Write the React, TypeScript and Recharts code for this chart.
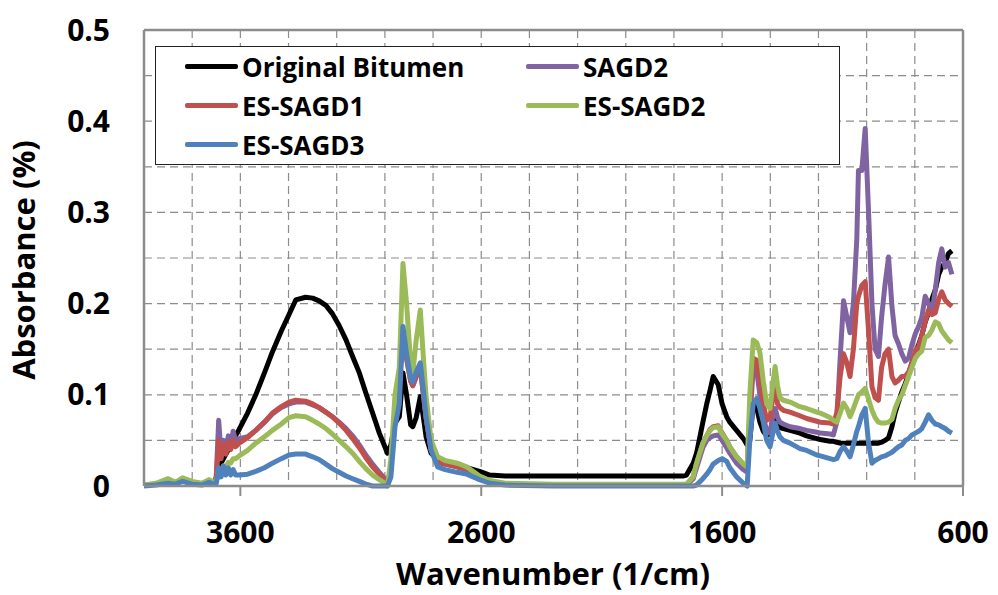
import { CartesianGrid, Legend, Line, LineChart, ReferenceLine, XAxis, YAxis } from 'recharts'

// wavenumber (1/cm), high to low
const wavenumber = [
  4000, 3950, 3900, 3870, 3840, 3800, 3760, 3730, 3710, 3700, 3690, 3680, 3670, 3660, 3650, 3640, 3630, 3620, 3605, 3570,
  3536, 3500, 3467, 3430, 3398, 3370, 3329, 3300, 3273, 3245, 3218, 3190, 3161, 3134, 3106, 3079, 3051, 3023, 3000, 2989,
  2975, 2958, 2940, 2925, 2910, 2893, 2884, 2870, 2853, 2840, 2829, 2808, 2781, 2750, 2700, 2660, 2607, 2565, 2500, 2300,
  2100, 1900, 1760, 1748, 1720, 1706, 1680, 1664, 1650, 1637, 1616, 1600, 1581, 1568, 1540, 1512, 1496, 1485, 1471, 1456,
  1443, 1429, 1415, 1401, 1388, 1380, 1370, 1360, 1346, 1318, 1277, 1249, 1207, 1193, 1152, 1138, 1124, 1110, 1096, 1082,
  1069, 1055, 1041, 1034, 1020, 1006, 992, 978, 965, 951, 938, 924, 909, 895, 882, 868, 854, 840, 826, 812,
  798, 784, 771, 757, 743, 729, 715, 701, 688, 674, 660, 646,
]

const originalBitumen = [
  0.001, 0.002, 0.004, 0.003, 0.006, 0.003, 0.002, 0.004, 0.003, 0.005, 0.02, 0.025, 0.03, 0.035, 0.04, 0.045, 0.05, 0.055, 0.062, 0.08,
  0.1, 0.124, 0.147, 0.17, 0.188, 0.204, 0.207, 0.206, 0.203, 0.198, 0.189, 0.176, 0.16, 0.142, 0.124, 0.102, 0.08, 0.058, 0.043, 0.036,
  0.045, 0.069, 0.076, 0.124, 0.1, 0.067, 0.065, 0.075, 0.098, 0.075, 0.054, 0.036, 0.028, 0.025, 0.023, 0.02, 0.016, 0.012, 0.011, 0.011,
  0.011, 0.011, 0.011, 0.012, 0.025, 0.036, 0.07, 0.09, 0.105, 0.12, 0.111, 0.09, 0.076, 0.07, 0.061, 0.052, 0.045, 0.05, 0.09, 0.085,
  0.07, 0.06, 0.055, 0.058, 0.07, 0.075, 0.068, 0.064, 0.063, 0.061, 0.058, 0.055, 0.052, 0.051, 0.049, 0.049, 0.048, 0.047, 0.047, 0.047,
  0.047, 0.047, 0.047, 0.047, 0.047, 0.047, 0.047, 0.047, 0.047, 0.047, 0.048, 0.05, 0.053, 0.065, 0.08, 0.092, 0.103, 0.112, 0.122, 0.135,
  0.145, 0.155, 0.165, 0.18, 0.19, 0.205, 0.215, 0.232, 0.24, 0.245, 0.255, 0.258,
]

const sagd2 = [
  0.001, 0.002, 0.005, 0.004, 0.007, 0.004, 0.002, 0.006, 0.003, 0.01, 0.072, 0.035, 0.05, 0.04, 0.055, 0.045, 0.06, 0.05, 0.052, 0.054,
  0.061, 0.07, 0.079, 0.086, 0.09, 0.092, 0.092, 0.089, 0.086, 0.081, 0.076, 0.07, 0.063, 0.055, 0.045, 0.034, 0.024, 0.015, 0.008, 0.002,
  0.02, 0.085, 0.11, 0.17, 0.14, 0.115, 0.11, 0.12, 0.13, 0.1, 0.075, 0.04, 0.026, 0.024, 0.021, 0.018, 0.01, 0.005, 0.002, 0.001,
  0.001, 0.001, 0.001, 0.001, 0.008, 0.02, 0.042, 0.05, 0.053, 0.055, 0.056, 0.05, 0.042, 0.036, 0.025, 0.018, 0.015, 0.07, 0.13, 0.125,
  0.1, 0.075, 0.061, 0.058, 0.08, 0.085, 0.075, 0.07, 0.068, 0.065, 0.063, 0.061, 0.059, 0.058, 0.057, 0.056, 0.07, 0.14, 0.203, 0.185,
  0.168, 0.2, 0.27, 0.346, 0.346, 0.392, 0.3, 0.2, 0.15, 0.142, 0.185, 0.22, 0.251, 0.197, 0.165, 0.156, 0.145, 0.137, 0.14, 0.155,
  0.167, 0.175, 0.185, 0.208, 0.2, 0.19, 0.215, 0.245, 0.26, 0.24, 0.245, 0.232,
]

const esSagd1 = [
  0.001, 0.002, 0.005, 0.003, 0.007, 0.004, 0.002, 0.006, 0.003, 0.01, 0.05, 0.03, 0.045, 0.035, 0.048, 0.04, 0.05, 0.043, 0.047, 0.053,
  0.061, 0.07, 0.08, 0.087, 0.092, 0.094, 0.093, 0.09, 0.086, 0.081, 0.076, 0.069, 0.061, 0.052, 0.042, 0.031, 0.021, 0.013, 0.006, 0.001,
  0.02, 0.085, 0.11, 0.17, 0.14, 0.115, 0.11, 0.12, 0.13, 0.1, 0.075, 0.04, 0.026, 0.024, 0.021, 0.018, 0.01, 0.005, 0.002, 0.001,
  0.001, 0.001, 0.001, 0.001, 0.01, 0.025, 0.047, 0.055, 0.062, 0.065, 0.066, 0.058, 0.05, 0.043, 0.032, 0.024, 0.021, 0.08, 0.14, 0.138,
  0.115, 0.09, 0.072, 0.075, 0.1, 0.113, 0.09, 0.086, 0.083, 0.081, 0.077, 0.074, 0.071, 0.07, 0.069, 0.068, 0.08, 0.12, 0.145, 0.135,
  0.12, 0.15, 0.2, 0.208, 0.22, 0.224, 0.17, 0.109, 0.097, 0.094, 0.13, 0.145, 0.15, 0.12, 0.113, 0.116, 0.12, 0.12, 0.125, 0.135,
  0.148, 0.153, 0.165, 0.18, 0.193, 0.188, 0.19, 0.205, 0.213, 0.204, 0.2, 0.197,
]

const esSagd2 = [
  0.001, 0.003, 0.008, 0.004, 0.009, 0.005, 0.003, 0.007, 0.004, 0.005, 0.018, 0.015, 0.022, 0.02, 0.026, 0.025, 0.03, 0.03, 0.033, 0.039,
  0.047, 0.054, 0.061, 0.068, 0.075, 0.077, 0.076, 0.072, 0.068, 0.063, 0.057, 0.05, 0.043, 0.036, 0.027, 0.019, 0.012, 0.007, 0.003, 0,
  0.03, 0.1, 0.13, 0.244, 0.2, 0.135, 0.124, 0.16, 0.193, 0.14, 0.098, 0.05, 0.032, 0.028, 0.025, 0.021, 0.011, 0.006, 0.003, 0.002,
  0.002, 0.002, 0.002, 0.002, 0.01, 0.025, 0.047, 0.055, 0.061, 0.064, 0.065, 0.057, 0.05, 0.043, 0.032, 0.024, 0.021, 0.1, 0.16, 0.157,
  0.146, 0.115, 0.09, 0.085, 0.115, 0.131, 0.11, 0.097, 0.094, 0.092, 0.087, 0.085, 0.081, 0.08, 0.075, 0.072, 0.07, 0.08, 0.091, 0.085,
  0.076, 0.085, 0.095, 0.1, 0.103, 0.107, 0.095, 0.083, 0.075, 0.07, 0.069, 0.069, 0.07, 0.073, 0.085, 0.094, 0.1, 0.11, 0.12, 0.13,
  0.14, 0.145, 0.148, 0.163, 0.165, 0.171, 0.18, 0.178, 0.17, 0.165, 0.16, 0.157,
]

const esSagd3 = [
  0, 0.001, 0.003, 0.002, 0.005, 0.002, 0.001, 0.004, 0.002, 0.003, 0.02, 0.01, 0.022, 0.012, 0.02, 0.012, 0.018, 0.012, 0.012, 0.013,
  0.016, 0.02, 0.025, 0.03, 0.034, 0.035, 0.035, 0.032, 0.029, 0.024, 0.019, 0.015, 0.011, 0.008, 0.005, 0.002, 0, 0, 0, 0,
  0.01, 0.065, 0.09, 0.175, 0.145, 0.118, 0.114, 0.125, 0.135, 0.105, 0.076, 0.039, 0.021, 0.018, 0.015, 0.013, 0.007, 0.003, 0.001, 0,
  0, 0, 0, 0, 0, 0.001, 0.008, 0.013, 0.018, 0.024, 0.028, 0.03, 0.027, 0.02, 0.01, 0.003, 0, 0.05, 0.09, 0.096,
  0.085, 0.07, 0.05, 0.043, 0.06, 0.069, 0.06, 0.054, 0.05, 0.047, 0.041, 0.039, 0.034, 0.033, 0.03, 0.029, 0.03, 0.038, 0.043, 0.038,
  0.032, 0.045, 0.06, 0.065, 0.078, 0.085, 0.047, 0.025, 0.028, 0.03, 0.032, 0.033, 0.035, 0.037, 0.04, 0.043, 0.045, 0.05, 0.052, 0.056,
  0.058, 0.06, 0.063, 0.07, 0.078, 0.072, 0.068, 0.067, 0.065, 0.063, 0.06, 0.058,
]

const seriesNames = ['Original Bitumen', 'SAGD2', 'ES-SAGD1', 'ES-SAGD2', 'ES-SAGD3']
const seriesColors = ['#000000', '#8064A2', '#C0504D', '#9BBB59', '#4F81BD']
const seriesValues = [originalBitumen, sagd2, esSagd1, esSagd2, esSagd3]

const xTicks = [3600, 2600, 1600, 600]
const yTicks = [0, 0.1, 0.2, 0.3, 0.4, 0.5]
const xGrid = [3800, 3600, 3400, 3200, 3000, 2800, 2600, 2400, 2200, 2000, 1800, 1600, 1400, 1200, 1000, 800]
const yGrid = [0.05, 0.1, 0.15, 0.2, 0.25, 0.3, 0.35, 0.4, 0.45]

const data = wavenumber.map((w, i) => {
  const row: Record<string, number> = { w }
  seriesNames.forEach((name, s) => {
    row[name] = seriesValues[s][i]
  })
  return row
})

const FONT = '"Open Sans", sans-serif'
const AXIS = '#8c8c8c'

function LegendBox({ payload }: any) {
  // keep the series order, not recharts' alphabetical sort
  const items = [...(payload || [])].sort(
    (a: any, b: any) => seriesNames.indexOf(a.value) - seriesNames.indexOf(b.value),
  )
  return (
    <div
      style={{
        boxSizing: 'border-box',
        width: 685,
        height: 119,
        background: '#fff',
        border: '1.5px solid #222',
        display: 'grid',
        gridTemplateColumns: '341px 300px',
        gridAutoRows: '39px',
        paddingLeft: 29,
        fontFamily: FONT,
        fontWeight: 700,
        fontSize: 26,
        color: '#000',
      }}
    >
      {items.map((p: any) => (
        <div key={p.value} style={{ display: 'flex', alignItems: 'center' }}>
          <span style={{ display: 'inline-block', width: 53, height: 5, borderRadius: 2, background: p.color, marginRight: 4 }} />
          <span style={{ lineHeight: 1 }}>{p.value}</span>
        </div>
      ))}
    </div>
  )
}

export default function App() {
  return (
    <div style={{ position: 'absolute', left: 0, top: 0, width: 998, height: 595, background: '#fff' }}>
      <LineChart
        width={998}
        height={595}
        data={data}
        margin={{ top: 30, right: 35, left: 0, bottom: 0 }}
        style={{ fontFamily: FONT }}
      >
        <CartesianGrid
          stroke={AXIS}
          strokeWidth={1.2}
          strokeDasharray="8 5"
          horizontalValues={yGrid}
          verticalValues={xGrid}
        />
        <XAxis
          dataKey="w"
          type="number"
          domain={[600, 4000]}
          reversed
          ticks={xTicks}
          height={109}
          tickSize={10}
          tickMargin={26}
          axisLine={{ stroke: AXIS, strokeWidth: 2.5 }}
          tickLine={{ stroke: AXIS, strokeWidth: 2 }}
          tick={{ fontSize: 30, fontWeight: 700, fill: '#000', fontFamily: FONT }}
          label={{
            content: () => (
              <text x={553} y={585} textAnchor="middle" fontSize={31} fontWeight={700} fill="#000" fontFamily={FONT}>
                Wavenumber (1/cm)
              </text>
            ),
          }}
        />
        <YAxis
          type="number"
          domain={[0, 0.5]}
          ticks={yTicks}
          width={144}
          tickSize={0}
          tickMargin={34}
          tickFormatter={(v: number) => (v === 0 ? '0' : v.toFixed(1))}
          axisLine={{ stroke: AXIS, strokeWidth: 2.5 }}
          tickLine={false}
          tick={{ fontSize: 30, fontWeight: 700, fill: '#000', fontFamily: FONT }}
          label={{
            content: () => (
              <text
                x={35}
                y={260}
                transform="rotate(-90, 35, 260)"
                textAnchor="middle"
                fontSize={31}
                fontWeight={700}
                fill="#000"
                fontFamily={FONT}
              >
                Absorbance (%)
              </text>
            ),
          }}
        />
        <ReferenceLine y={0.5} stroke={AXIS} strokeWidth={2.5} />
        <ReferenceLine x={600} stroke={AXIS} strokeWidth={2.5} />
        <Legend
          layout="horizontal"
          verticalAlign="middle"
          align="center"
          content={<LegendBox />}
          wrapperStyle={{ position: 'absolute', left: 155, top: 46, width: 685, height: 119 }}
        />
        {seriesNames.map((name, s) => (
          <Line
            key={name}
            type="linear"
            dataKey={name}
            name={name}
            stroke={seriesColors[s]}
            strokeWidth={5}
            strokeLinejoin="round"
            dot={false}
            activeDot={false}
            isAnimationActive={false}
          />
        ))}
      </LineChart>
    </div>
  )
}
